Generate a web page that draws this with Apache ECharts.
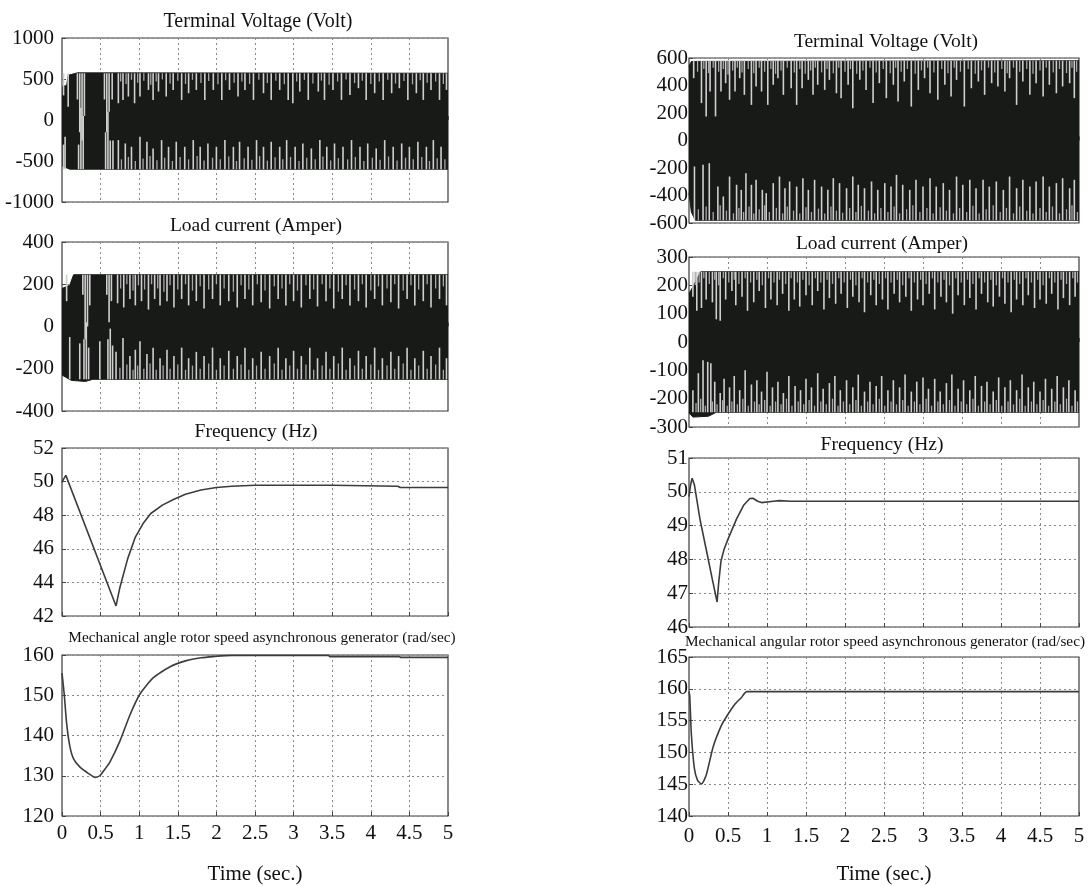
<!DOCTYPE html>
<html><head><meta charset="utf-8">
<script src="https://cdn.jsdelivr.net/npm/echarts@6/dist/echarts.min.js"></script>
<style>html,body{margin:0;padding:0;background:#fff}#c{width:1088px;height:886px}</style>
</head><body><div id="c"></div><script>
// ---------- DATA ----------
const titles = ['Terminal Voltage (Volt)','Load current (Amper)','Frequency (Hz)',
  'Mechanical angle rotor speed asynchronous generator (rad/sec)',
  'Terminal Voltage (Volt)','Load current (Amper)','Frequency (Hz)',
  'Mechanical angular rotor speed asynchronous generator (rad/sec)'];
const xLabel = 'Time (sec.)';
// y axis ranges [min, max, interval]
const yRangesL = [[-1000,1000,500],[-400,400,200],[42,52,2],[120,160,10]];
const yRangesR = [[-600,600,200],[-300,300,100],[46,51,1],[140,165,5]];

// Oscillating signals: envelopes
const upL1 = [[0,410],[0.06,420],[0.08,545],[0.2,575],[5,570]];
const loL1 = [[0,-560],[0.1,-600],[5,-600]];
const upL2 = [[0,180],[0.1,195],[0.15,245],[5,245]];
const loL2 = [[0,-230],[0.12,-255],[0.3,-260],[0.4,-250],[5,-250]];
const upR1 = [[0,540],[0.03,575],[5,580]];
const loR1 = [[0,-380],[0.03,-520],[0.08,-580],[5,-580]];
const upR2 = [[0,170],[0.06,200],[0.15,248],[5,248]];
const loR2 = [[0,-250],[0.05,-265],[0.25,-262],[0.35,-248],[5,-248]];

// Light streaks (time, end value) reaching in from the top / bottom edges
const topL1 = [[0.02,300],[0.08,163],[0.20,250],[0.23,-150],[0.26,-250],[0.29,50],[0.55,250],[0.58,-150],[0.61,100],[0.65,250],[0.73,204],[0.79,245],[0.86,286],[0.94,204],[1.01,286],[1.12,367],[1.18,245],[1.25,347],[1.35,286],[1.44,367],[1.55,245],[1.64,327],[1.74,367],[1.85,245],[1.96,367],[2.07,245],[2.17,367],[2.28,286],[2.37,367],[2.48,245],[2.61,327],[2.71,245],[2.82,367],[2.93,245],[2.99,204],[3.08,347],[3.19,245],[3.32,347],[3.40,245],[3.51,367],[3.62,245],[3.73,306],[3.84,388],[3.94,245],[4.05,327],[4.16,245],[4.27,327],[4.37,388],[4.48,245],[4.59,327],[4.68,245],[4.78,367],[4.89,245],[4.98,367]];
const topL1f = [[0.76,470],[0.83,440],[0.90,490],[0.98,455],[1.06,480],[1.15,430],[1.22,470],[1.30,495],[1.40,445],[1.50,480],[1.60,440],[1.69,490],[1.80,450],[1.90,475],[2.02,435],[2.12,485],[2.23,455],[2.33,470],[2.43,440],[2.55,490],[2.66,450],[2.77,480],[2.88,435],[3.04,470],[3.14,490],[3.25,445],[3.36,480],[3.46,430],[3.57,470],[3.68,495],[3.79,450],[3.89,480],[4.00,440],[4.11,470],[4.22,490],[4.32,445],[4.43,475],[4.54,435],[4.64,485],[4.73,455],[4.84,470],[4.94,440]];
const botL1 = [[0.02,-300],[0.04,-204],[0.215,-300],[0.245,150],[0.275,50],[0.565,-150],[0.595,100],[0.625,-250],[0.66,-250],[0.73,-245],[0.82,-286],[0.90,-327],[1.01,-204],[1.10,-265],[1.18,-347],[1.29,-245],[1.38,-327],[1.48,-265],[1.59,-327],[1.70,-245],[1.79,-327],[1.89,-286],[2.00,-327],[2.11,-245],[2.22,-327],[2.30,-265],[2.41,-327],[2.52,-245],[2.61,-327],[2.71,-265],[2.82,-327],[2.91,-245],[3.02,-327],[3.12,-286],[3.23,-347],[3.34,-245],[3.43,-327],[3.53,-286],[3.64,-327],[3.75,-245],[3.86,-327],[3.96,-286],[4.07,-347],[4.18,-245],[4.29,-327],[4.40,-286],[4.50,-327],[4.61,-265],[4.72,-327],[4.81,-245],[4.91,-327]];
const botL1f = [[0.77,-480],[0.86,-450],[0.95,-500],[1.05,-470],[1.14,-440],[1.23,-490],[1.33,-460],[1.43,-500],[1.53,-450],[1.64,-480],[1.75,-440],[1.84,-495],[1.95,-460],[2.05,-480],[2.16,-445],[2.26,-500],[2.36,-465],[2.46,-485],[2.56,-440],[2.66,-495],[2.76,-455],[2.86,-480],[2.96,-450],[3.07,-500],[3.17,-460],[3.28,-480],[3.38,-445],[3.48,-495],[3.58,-465],[3.70,-480],[3.80,-450],[3.91,-500],[4.02,-460],[4.12,-485],[4.23,-445],[4.34,-495],[4.45,-460],[4.55,-480],[4.66,-450],[4.76,-500],[4.86,-465],[4.96,-480]];
const topL2 = [[0.06,120],[0.27,150],[0.30,-60],[0.33,0],[0.36,100],[0.58,150],[0.61,20],[0.64,120],[0.72,110],[0.80,90],[0.88,130],[0.95,100],[1.03,120],[1.12,80],[1.20,130],[1.27,100],[1.36,120],[1.45,90],[1.55,130],[1.64,100],[1.74,120],[1.84,85],[1.95,130],[2.05,100],[2.16,120],[2.27,90],[2.37,130],[2.47,100],[2.58,115],[2.69,85],[2.80,130],[2.90,100],[3.00,120],[3.10,90],[3.21,130],[3.31,95],[3.42,120],[3.52,85],[3.63,130],[3.73,100],[3.84,120],[3.94,90],[4.05,130],[4.15,100],[4.26,115],[4.36,85],[4.47,130],[4.57,100],[4.68,120],[4.78,90],[4.89,130],[4.98,100]];
const topL2f = [[0.76,180],[0.84,200],[0.92,170],[0.99,195],[1.07,175],[1.16,200],[1.24,180],[1.32,165],[1.40,195],[1.50,175],[1.60,200],[1.69,170],[1.79,190],[1.90,175],[2.00,200],[2.10,180],[2.22,165],[2.32,195],[2.42,175],[2.53,200],[2.63,170],[2.75,190],[2.85,180],[2.95,200],[3.05,170],[3.16,195],[3.26,175],[3.37,200],[3.47,180],[3.58,165],[3.68,195],[3.79,175],[3.89,200],[4.00,170],[4.10,190],[4.21,180],[4.31,200],[4.42,170],[4.52,195],[4.62,175],[4.73,200],[4.84,180],[4.94,190]];
const botL2 = [[0.10,-50],[0.23,-80],[0.285,-60],[0.315,20],[0.345,-100],[0.49,-70],[0.595,-60],[0.625,-10],[0.655,-90],[0.70,-120],[0.79,-55],[0.88,-140],[0.95,-110],[1.01,-70],[1.10,-130],[1.18,-100],[1.27,-150],[1.36,-110],[1.45,-140],[1.55,-100],[1.64,-150],[1.74,-120],[1.84,-140],[1.95,-100],[2.05,-150],[2.16,-115],[2.27,-140],[2.37,-100],[2.47,-150],[2.58,-120],[2.69,-140],[2.80,-100],[2.90,-150],[3.00,-115],[3.10,-140],[3.21,-100],[3.31,-150],[3.42,-120],[3.52,-140],[3.63,-100],[3.73,-150],[3.84,-115],[3.94,-140],[4.05,-100],[4.15,-150],[4.26,-120],[4.36,-140],[4.47,-100],[4.57,-150],[4.68,-115],[4.78,-140],[4.89,-100],[4.98,-150]];
const botL2f = [[0.75,-195],[0.84,-180],[0.92,-205],[0.98,-185],[1.06,-200],[1.14,-175],[1.22,-205],[1.31,-185],[1.40,-200],[1.50,-180],[1.60,-205],[1.69,-185],[1.79,-200],[1.90,-175],[2.00,-205],[2.10,-185],[2.22,-200],[2.32,-180],[2.42,-205],[2.52,-185],[2.63,-200],[2.75,-175],[2.85,-205],[2.95,-185],[3.05,-200],[3.16,-180],[3.26,-205],[3.37,-185],[3.47,-200],[3.58,-175],[3.68,-205],[3.79,-185],[3.89,-200],[4.00,-180],[4.10,-205],[4.21,-185],[4.31,-200],[4.42,-175],[4.52,-205],[4.62,-185],[4.73,-200],[4.84,-180],[4.94,-205]];
const topR1 = [[0.06,453],[0.16,272],[0.22,175],[0.27,356],[0.34,175],[0.41,356],[0.47,417],[0.52,296],[0.59,356],[0.65,453],[0.71,332],[0.80,259],[0.86,393],[0.93,356],[1.01,259],[1.08,405],[1.14,453],[1.21,332],[1.31,380],[1.38,259],[1.45,380],[1.53,441],[1.59,332],[1.65,405],[1.74,368],[1.80,441],[1.89,344],[1.95,308],[2.04,405],[2.10,235],[2.19,441],[2.27,368],[2.36,272],[2.44,417],[2.53,308],[2.62,405],[2.68,284],[2.76,429],[2.85,247],[2.94,368],[3.02,453],[3.09,344],[3.19,296],[3.28,405],[3.36,320],[3.43,441],[3.53,247],[3.62,380],[3.71,429],[3.79,332],[3.88,417],[3.96,393],[4.05,356],[4.11,453],[4.20,259],[4.28,429],[4.37,332],[4.45,417],[4.54,320],[4.62,405],[4.71,344],[4.79,393],[4.88,417],[4.94,308]];
const topR1f = [[0.11,500],[0.19,520],[0.25,490],[0.31,530],[0.38,500],[0.44,520],[0.50,480],[0.56,510],[0.62,530],[0.68,495],[0.76,520],[0.83,490],[0.90,530],[0.97,500],[1.05,520],[1.11,485],[1.18,510],[1.26,530],[1.35,495],[1.42,520],[1.49,485],[1.56,510],[1.62,530],[1.70,495],[1.77,520],[1.85,490],[1.92,530],[2.00,500],[2.07,520],[2.15,485],[2.23,510],[2.32,530],[2.40,495],[2.49,520],[2.58,490],[2.65,530],[2.72,500],[2.80,520],[2.90,485],[2.98,510],[3.06,530],[3.14,495],[3.24,520],[3.32,490],[3.40,530],[3.48,500],[3.58,520],[3.67,485],[3.75,510],[3.84,530],[3.92,495],[4.01,520],[4.08,490],[4.16,530],[4.24,500],[4.33,520],[4.41,485],[4.50,510],[4.58,530],[4.67,495],[4.75,520],[4.84,490],[4.91,530],[4.97,500]];
const botR1 = [[0.07,-189],[0.18,-177],[0.26,-165],[0.37,-335],[0.44,-407],[0.52,-262],[0.61,-322],[0.67,-359],[0.73,-238],[0.80,-322],[0.86,-286],[0.94,-359],[0.99,-383],[1.08,-310],[1.16,-262],[1.23,-347],[1.29,-298],[1.38,-335],[1.46,-274],[1.53,-359],[1.61,-286],[1.70,-335],[1.78,-359],[1.85,-274],[1.93,-310],[2.02,-347],[2.10,-262],[2.17,-322],[2.25,-347],[2.34,-298],[2.42,-359],[2.51,-310],[2.59,-335],[2.66,-250],[2.74,-322],[2.83,-359],[2.91,-286],[3.00,-335],[3.09,-274],[3.17,-335],[3.26,-310],[3.34,-359],[3.43,-262],[3.51,-322],[3.60,-286],[3.68,-347],[3.77,-286],[3.85,-335],[3.94,-298],[4.03,-359],[4.11,-262],[4.20,-347],[4.28,-286],[4.37,-335],[4.45,-298],[4.54,-262],[4.62,-335],[4.71,-310],[4.79,-274],[4.88,-347],[4.94,-286]];
const botR1f = [[0.12,-500],[0.22,-480],[0.31,-520],[0.40,-470],[0.48,-510],[0.57,-530],[0.64,-490],[0.70,-520],[0.77,-480],[0.83,-530],[0.90,-500],[0.97,-470],[1.03,-520],[1.12,-490],[1.20,-530],[1.26,-480],[1.34,-510],[1.42,-530],[1.50,-485],[1.57,-520],[1.66,-495],[1.74,-530],[1.82,-480],[1.89,-510],[1.97,-525],[2.06,-490],[2.14,-520],[2.21,-475],[2.30,-510],[2.38,-530],[2.46,-490],[2.55,-520],[2.63,-480],[2.70,-530],[2.79,-500],[2.87,-470],[2.96,-520],[3.05,-490],[3.13,-530],[3.22,-485],[3.30,-510],[3.39,-530],[3.47,-490],[3.56,-520],[3.64,-475],[3.72,-530],[3.81,-500],[3.90,-470],[3.99,-520],[4.07,-490],[4.16,-530],[4.24,-480],[4.33,-510],[4.41,-530],[4.50,-490],[4.58,-520],[4.66,-480],[4.75,-530],[4.84,-500],[4.91,-470],[4.98,-520]];
const topR2 = [[0.05,160],[0.10,110],[0.16,120],[0.22,150],[0.30,140],[0.35,80],[0.40,75],[0.47,150],[0.55,180],[0.60,130],[0.68,160],[0.75,110],[0.83,140],[0.90,180],[0.98,120],[1.05,150],[1.13,130],[1.20,170],[1.28,110],[1.35,150],[1.42,125],[1.50,165],[1.58,130],[1.65,180],[1.73,115],[1.80,155],[1.88,135],[1.95,170],[2.03,120],[2.10,160],[2.18,140],[2.25,105],[2.33,165],[2.40,130],[2.48,150],[2.55,115],[2.63,170],[2.70,140],[2.78,160],[2.85,110],[2.93,150],[3.00,130],[3.08,170],[3.15,115],[3.23,160],[3.30,140],[3.38,100],[3.45,165],[3.53,130],[3.60,155],[3.68,115],[3.75,170],[3.83,140],[3.90,125],[3.98,160],[4.05,135],[4.13,105],[4.20,150],[4.28,130],[4.35,165],[4.43,120],[4.50,150],[4.58,135],[4.65,170],[4.73,115],[4.80,155],[4.88,130],[4.95,160]];
const topR2f = [[0.08,200],[0.13,210],[0.19,225],[0.26,205],[0.33,220],[0.38,200],[0.44,225],[0.51,210],[0.58,220],[0.64,205],[0.72,225],[0.79,210],[0.87,220],[0.94,200],[1.02,225],[1.09,210],[1.16,220],[1.24,205],[1.31,225],[1.39,210],[1.46,220],[1.54,200],[1.62,225],[1.69,210],[1.77,220],[1.84,205],[1.92,225],[1.99,210],[2.07,220],[2.14,200],[2.22,225],[2.29,210],[2.37,220],[2.44,205],[2.52,225],[2.59,210],[2.67,220],[2.74,200],[2.82,225],[2.89,210],[2.97,220],[3.04,205],[3.12,225],[3.19,210],[3.27,220],[3.34,200],[3.42,225],[3.49,210],[3.57,220],[3.64,205],[3.72,225],[3.79,210],[3.87,220],[3.94,200],[4.02,225],[4.09,210],[4.17,220],[4.24,205],[4.32,225],[4.39,210],[4.47,220],[4.54,200],[4.62,225],[4.69,210],[4.77,220],[4.84,205],[4.92,225],[4.98,210]];
const botR2 = [[0.05,-170],[0.12,-110],[0.18,-64],[0.24,-70],[0.28,-75],[0.33,-140],[0.40,-180],[0.45,-130],[0.52,-160],[0.58,-120],[0.65,-170],[0.72,-100],[0.80,-150],[0.87,-135],[0.93,-175],[1.00,-105],[1.07,-160],[1.14,-140],[1.21,-180],[1.28,-120],[1.36,-155],[1.43,-170],[1.50,-130],[1.57,-160],[1.65,-110],[1.72,-165],[1.80,-145],[1.87,-120],[1.94,-170],[2.02,-135],[2.10,-160],[2.17,-115],[2.25,-175],[2.32,-140],[2.40,-155],[2.47,-120],[2.55,-170],[2.62,-135],[2.70,-160],[2.77,-115],[2.85,-175],[2.92,-140],[3.00,-125],[3.07,-165],[3.15,-130],[3.22,-175],[3.30,-145],[3.37,-115],[3.45,-165],[3.52,-135],[3.60,-170],[3.67,-120],[3.75,-155],[3.82,-140],[3.90,-175],[3.97,-125],[4.05,-160],[4.12,-135],[4.20,-170],[4.27,-115],[4.35,-160],[4.42,-140],[4.50,-175],[4.57,-130],[4.65,-165],[4.72,-120],[4.80,-160],[4.87,-135],[4.95,-170]];
const botR2f = [[0.09,-215],[0.15,-200],[0.21,-225],[0.30,-210],[0.36,-220],[0.43,-205],[0.49,-225],[0.55,-210],[0.62,-220],[0.69,-200],[0.76,-225],[0.84,-210],[0.90,-220],[0.97,-205],[1.04,-225],[1.11,-210],[1.18,-220],[1.25,-200],[1.32,-225],[1.40,-210],[1.47,-220],[1.54,-205],[1.61,-225],[1.69,-210],[1.76,-220],[1.84,-200],[1.91,-225],[1.98,-210],[2.06,-220],[2.14,-205],[2.21,-225],[2.29,-210],[2.36,-220],[2.44,-200],[2.51,-225],[2.59,-210],[2.66,-220],[2.74,-205],[2.81,-225],[2.89,-210],[2.96,-220],[3.04,-200],[3.11,-225],[3.19,-210],[3.26,-220],[3.34,-205],[3.41,-225],[3.49,-210],[3.56,-220],[3.64,-200],[3.71,-225],[3.79,-210],[3.86,-220],[3.94,-205],[4.01,-225],[4.09,-210],[4.16,-220],[4.24,-200],[4.31,-225],[4.39,-210],[4.46,-220],[4.54,-205],[4.61,-225],[4.69,-210],[4.76,-220],[4.84,-200],[4.91,-225],[4.98,-210]];

// Slow curves
const freqL = [[0,49.95],[0.02,50.15],[0.05,50.37],[0.7,42.6],[0.75,43.7],[0.85,45.4],[0.95,46.7],[1.05,47.5],[1.15,48.1],[1.3,48.6],[1.45,48.95],[1.6,49.25],[1.8,49.5],[2.0,49.65],[2.2,49.72],[2.5,49.78],[3.5,49.78],[3.52,49.72],[4.35,49.72],[4.38,49.65],[5,49.65]];
const rotorL = [[0,155.5],[0.03,150],[0.06,143],[0.1,137.5],[0.15,134.2],[0.23,132.2],[0.34,130.6],[0.43,129.6],[0.49,130.0],[0.55,131.5],[0.62,133.4],[0.75,138.6],[0.88,145.1],[1.01,150.3],[1.18,154.3],[1.4,157.1],[1.61,158.6],[1.8,159.3],[1.96,159.6],[2.2,159.9],[3.45,159.9],[3.47,159.6],[4.37,159.6],[4.39,159.4],[5,159.4]];
const freqR = [[0,49.86],[0.02,50.2],[0.04,50.4],[0.07,50.2],[0.14,49.2],[0.22,48.3],[0.3,47.4],[0.36,46.74],[0.38,47.3],[0.41,47.95],[0.45,48.3],[0.5,48.6],[0.61,49.2],[0.7,49.6],[0.78,49.8],[0.82,49.81],[0.88,49.72],[0.93,49.68],[1.08,49.72],[1.16,49.74],[1.3,49.72],[5,49.72]];
const rotorR = [[0,159.6],[0.01,158.8],[0.03,152.9],[0.07,147.4],[0.11,145.6],[0.16,145.05],[0.22,146.4],[0.31,150.9],[0.41,154.1],[0.48,155.6],[0.59,157.6],[0.67,158.6],[0.74,159.55],[5,159.55]];

// ---------- LAYOUT ----------
const FONT = '"Liberation Serif","DejaVu Serif","Times New Roman",serif';
const gridsPx = [
  [62,38,386,164],[62,242,386,169],[62,448,386,168],[62,655,386,166],
  [689,58,390,165],[689,257,390,170],[689,458,390,169],[689,657,390,170]
];
const titlePos = [[258,22,20],[256,226,19.5],[256,432,19.5],[262,638,15.3],
                  [886,42,19.5],[882,244,19.5],[882,445,19.5],[885,642,15.3]];
const yRanges = yRangesL.concat(yRangesR);

const grid = [], xAxis = [], yAxis = [], series = [], graphic = [];
gridsPx.forEach((g,i)=>{
  grid.push({left:g[0], top:g[1], width:g[2], height:g[3], show:true, borderColor:'#3a3a3a', borderWidth:1.2, backgroundColor:'#fff', containLabel:false});
  const bottom = (i===3||i===7);
  xAxis.push({gridIndex:i, type:'value', min:0, max:5, interval:0.5,
    axisLine:{show:false},
    axisTick:{show:true, inside:true, length:4, lineStyle:{color:'#444'}},
    splitLine:{show:true, lineStyle:{color:'#8a8a8a', type:[2,3], width:1}},
    axisLabel:{show:bottom, fontFamily:FONT, fontSize:21, color:'#111', margin: i===3?7:10,
      formatter: v=>String(v)},
    name: bottom?xLabel:'', nameLocation:'middle', nameGap: 48,
    nameTextStyle:{fontFamily:FONT, fontSize:21, color:'#111'}
  });
  const r = yRanges[i];
  yAxis.push({gridIndex:i, type:'value', min:r[0], max:r[1], interval:r[2],
    axisLine:{show:false},
    axisTick:{show:true, inside:true, length:4, lineStyle:{color:'#444'}},
    splitLine:{show:true, lineStyle:{color:'#8a8a8a', type:[2,3], width:1}},
    axisLabel:{fontFamily:FONT, fontSize:21, color:'#111', margin: i<4?8:1, formatter: v=>String(v)}
  });
  const t = titlePos[i];
  graphic.push({type:'text', x:t[0], y:t[1], style:{text:titles[i], font: t[2]+'px '+FONT, fill:'#111', textAlign:'center', textVerticalAlign:'middle'}});
});

const BAND = '#181a18';
function env(idx, data, origin){
  return {type:'line', xAxisIndex:idx, yAxisIndex:idx, data:data, symbol:'none', silent:true, z:2,
    lineStyle:{color:BAND, width:1}, areaStyle:{color:BAND, opacity:1, origin:origin}};
}
function streaks(idx, data, cap, color, w){
  return {type:'custom', xAxisIndex:idx, yAxisIndex:idx, data:data, silent:true, z:3,
    encode:{x:0, y:1},
    renderItem:function(params, api){
      const a = api.coord([api.value(0), api.value(1)]);
      const b = api.coord([api.value(0), cap]);
      return {type:'line', shape:{x1:a[0], y1:a[1], x2:b[0], y2:b[1]}, style:{stroke:color, lineWidth:w}};
    }};
}
function curve(idx, data, sm){
  return {type:'line', xAxisIndex:idx, yAxisIndex:idx, data:data, symbol:'none', silent:true, z:3,
    smooth:sm, lineStyle:{color:'#3c3c3c', width:1.6}};
}
const MAIN = '#cfcfcf', FINE = '#a9a9a9';
series.push(env(0, upL1, -100), env(0, loL1, 100),
  streaks(0, topL1f, 570, FINE, 1.3), streaks(0, botL1f, -600, FINE, 1.3),
  streaks(0, topL1, 570, MAIN, 1.6), streaks(0, botL1, -600, MAIN, 1.6));
series.push(env(1, upL2, -50), env(1, loL2, 50),
  streaks(1, topL2f, 245, FINE, 1.3), streaks(1, botL2f, -250, FINE, 1.3),
  streaks(1, topL2, 245, MAIN, 1.6), streaks(1, botL2, -250, MAIN, 1.6));
series.push(curve(2, freqL, false), curve(3, rotorL, 0.2));
series.push(env(4, upR1, -100), env(4, loR1, 100),
  streaks(4, topR1f, 580, FINE, 1.3), streaks(4, botR1f, -580, FINE, 1.3),
  streaks(4, topR1, 580, MAIN, 1.6), streaks(4, botR1, -580, MAIN, 1.6));
series.push(env(5, upR2, -50), env(5, loR2, 50),
  streaks(5, topR2f, 248, FINE, 1.3), streaks(5, botR2f, -248, FINE, 1.3),
  streaks(5, topR2, 248, MAIN, 1.6), streaks(5, botR2, -248, MAIN, 1.6));
series.push(curve(6, freqR, false), curve(7, rotorR, 0.2));

const chart = echarts.init(document.getElementById('c'), null, {renderer:'canvas'});
chart.setOption({animation:false, backgroundColor:'#fff', grid, xAxis, yAxis, series, graphic});
</script></body></html>
